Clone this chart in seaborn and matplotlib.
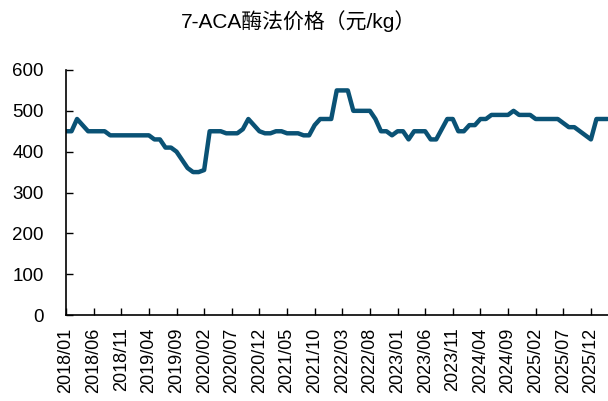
import matplotlib
matplotlib.use("Agg")
import matplotlib.pyplot as plt
import seaborn as sns
import pandas as pd
import numpy as np

months = pd.period_range("2018-01", "2026-03", freq="M").strftime("%Y/%m").tolist()
prices = [
    450, 450, 480, 465, 450, 450, 450, 450, 440, 440,
    440, 440, 440, 440, 440, 440, 430, 430, 410, 410,
    400, 380, 360, 350, 350, 355, 450, 450, 450, 445,
    445, 445, 455, 480, 465, 450, 445, 445, 450, 450,
    445, 445, 445, 440, 440, 465, 480, 480, 480, 550,
    550, 550, 500, 500, 500, 500, 480, 450, 450, 440,
    450, 450, 430, 450, 450, 450, 430, 430, 455, 480,
    480, 450, 450, 465, 465, 480, 480, 490, 490, 490,
    490, 500, 490, 490, 490, 480, 480, 480, 480, 480,
    470, 460, 460, 450, 440, 430, 480, 480, 480,
]
tick_labels = months[::5]

sns.set_theme(style="ticks")
plt.rcParams["font.family"] = ["Liberation Sans", "Noto Sans CJK SC", "DejaVu Sans"]
plt.rcParams["text.color"] = "black"
plt.rcParams["xtick.color"] = "black"
plt.rcParams["ytick.color"] = "black"
plt.rcParams["xtick.labelcolor"] = "black"
plt.rcParams["ytick.labelcolor"] = "black"

df = pd.DataFrame({"idx": np.arange(len(prices)), "price": prices})

fig = plt.figure(figsize=(6.08, 4.01), dpi=100)
ax = fig.add_axes([66/608, 1-315/401, (607.5-66)/608, (315-70)/401])
sns.lineplot(data=df, x="idx", y="price", ax=ax, color="#0A5275", linewidth=3.2)

ax.set_xlim(0, len(prices)-1)
ax.set_ylim(0, 600)
ax.set_yticks(range(0, 601, 100))
ax.set_xticks(np.arange(0, len(prices), 5))
ax.set_xticklabels(tick_labels, rotation=90, fontsize=13)
ax.tick_params(axis="y", labelsize=13.5, direction="in", length=5, width=1, pad=16)
ax.tick_params(axis="x", direction="in", length=5, width=1, pad=9)
ax.set_xlabel("")
ax.set_ylabel("")
for s in ["top", "right"]:
    ax.spines[s].set_visible(False)
for s in ["left", "bottom"]:
    ax.spines[s].set_color("black")
    ax.spines[s].set_linewidth(1.2)

fig.text(298/608, 1-21/401, "7-ACA酶法价格（元/kg）", ha="center", va="center",
         fontsize=15, color="black",
         family=["Liberation Sans", "Noto Sans CJK SC", "DejaVu Sans"])

fig.savefig("out.png", dpi=100)
